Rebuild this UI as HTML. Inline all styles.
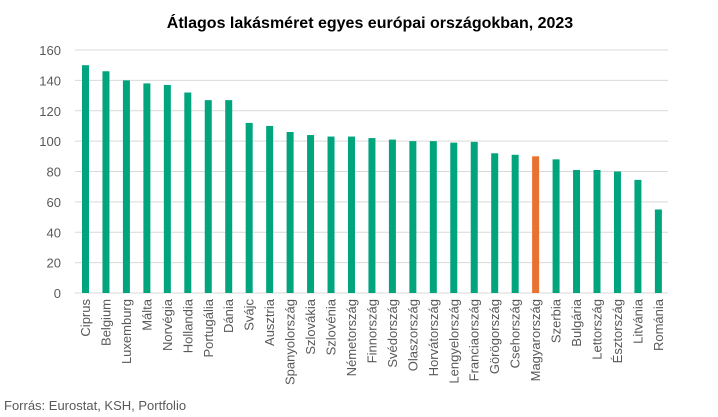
<!DOCTYPE html>
<html><head><meta charset="utf-8"><style>body{margin:0;background:#fff}svg{display:block}</style></head><body>
<svg width="718" height="417" viewBox="0 0 718 417" xmlns="http://www.w3.org/2000/svg" font-family="Liberation Sans, sans-serif">
<text x="370" y="28" text-anchor="middle" font-size="16" font-weight="bold" fill="#000">Átlagos lakásméret egyes európai országokban, 2023</text>
<g id="g"></g>
<text x="4" y="410" font-size="13" fill="#595959">Forrás: Eurostat, KSH, Portfolio</text>
<script>
var ns="http://www.w3.org/2000/svg",g=document.getElementById('g');
function el(t,a,txt){var e=document.createElementNS(ns,t);for(var k in a)e.setAttribute(k,a[k]);if(txt!==undefined)e.textContent=txt;g.appendChild(e);}
var y0=293,py=243/160;
for(var v=0;v<=160;v+=20){var y=y0-v*py;el('line',{x1:75,x2:668,y1:y,y2:y,stroke:'#d9d9d9','stroke-width':1});el('text',{x:61,y:y+5,'text-anchor':'end','font-size':13,fill:'#595959'},v);}
var d=[["Ciprus",150],["Belgium",146],["Luxemburg",140],["Málta",138],["Norvégia",137],["Hollandia",132],["Portugália",127],["Dánia",127],["Svájc",112],["Ausztria",110],["Spanyolország",106],["Szlovákia",104],["Szlovénia",103],["Németország",103],["Finnország",102],["Svédország",101],["Olaszország",100],["Horvátország",100],["Lengyelország",99],["Franciaország",99.5],["Görögország",92],["Csehország",91],["Magyarország",90],["Szerbia",88],["Bulgária",81],["Lettország",81],["Észtország",80],["Litvánia",74.5],["Románia",55]];
d.forEach(function(r,i){var x=85.5+i*20.46,h=r[1]*py;
el('rect',{x:x-3.5,y:y0-h,width:7,height:h,fill:i==22?'#e8722f':'#00a57d'});
el('text',{x:0,y:0,transform:'translate('+(x+4.5)+',299) rotate(-90)','text-anchor':'end','font-size':13,fill:'#595959'},r[0]);});
</script>
</svg>
</body></html>
